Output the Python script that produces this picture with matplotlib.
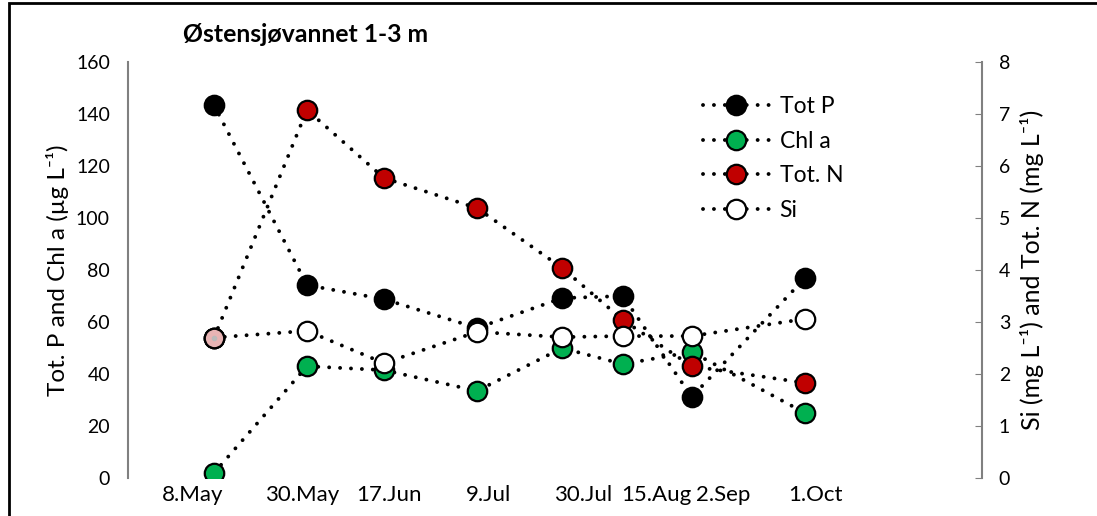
import matplotlib
matplotlib.use('Agg')
import matplotlib.pyplot as plt
from matplotlib.patches import Rectangle

plt.rcParams['font.family'] = ['Lato', 'DejaVu Sans']

# sampling days (day of year) and values
days = [128, 151, 170, 193, 214, 229, 246, 274]
tot_p = [143.5, 74.2, 68.8, 57.7, 69.2, 70.0, 31.2, 76.9]
chl_a = [1.9, 43.0, 41.5, 33.5, 50.0, 43.8, 48.5, 25.0]
tot_n = [2.69, 7.08, 5.77, 5.19, 4.04, 3.04, 2.15, 1.83]
si = [2.70, 2.83, 2.21, 2.81, 2.71, 2.73, 2.73, 3.06]

tick_days = [122.8, 149.7, 171.2, 195.7, 219.2, 237.3, 253.7, 276.5]
tick_labels = ['8.May', '30.May', '17.Jun', '9.Jul', '30.Jul', '15.Aug', '2.Sep', '1.Oct']

fig = plt.figure(figsize=(10.97, 5.16), dpi=100)
ax = fig.add_axes([0.1167, 0.0736, 0.7785, 0.8062])
ax2 = ax.twinx()

dots = dict(color='black', linestyle=(0, (0.01, 2.8)), lw=2.8,
            dash_capstyle='round', marker='o', markersize=14,
            markeredgecolor='black', markeredgewidth=1.6)

l1, = ax.plot(days, tot_p, markerfacecolor='black', label='Tot P', **dots)
l2, = ax.plot(days, chl_a, markerfacecolor='#00B050', label='Chl a', **dots)
l3, = ax2.plot(days, tot_n, markerfacecolor='#C00000', label='Tot. N', **dots)
l4, = ax2.plot(days, si, markerfacecolor='white', label='Si', **dots)
# first Si/Tot N point drawn pink in the original
ax2.plot(days[0], si[0], 'o', markersize=14, markerfacecolor='#E8B4B4',
         markeredgecolor='black', markeredgewidth=1.6)
ax2.plot(days[0], si[0], 'o', markersize=3, color='#BBBBBB')

ax.set_xlim(106.8, 317.7)
ax.set_ylim(0, 160)
ax2.set_ylim(0, 8)
ax.set_yticks(range(0, 161, 20))
ax2.set_yticks(range(0, 9))

ax.set_xticks(tick_days)
ax.set_xticklabels(tick_labels)
ax.tick_params(axis='x', length=0, labelsize=16, pad=5)
ax.tick_params(axis='y', length=0, labelsize=14, pad=13)
ax2.tick_params(axis='y', direction='in', length=5, color='#808080',
                labelsize=14, pad=12)

for a in (ax, ax2):
    for s in ('top', 'bottom'):
        a.spines[s].set_visible(False)
ax.spines['right'].set_visible(False)
ax2.spines['left'].set_visible(False)
ax.spines['left'].set_color('#808080')
ax.spines['left'].set_linewidth(1.5)
ax2.spines['right'].set_color('#808080')
ax2.spines['right'].set_linewidth(1.5)

ax.set_ylabel('Tot. P and Chl a (µg L⁻¹)', fontsize=17.5, labelpad=5)
ax2.set_ylabel('Si (mg L⁻¹) and Tot. N (mg L⁻¹)', fontsize=18, labelpad=7)

fig.text(183 / 1097, 1 - 35 / 516, 'Østensjøvannet 1-3 m', fontsize=17.8,
         fontweight='bold', va='center', ha='left')

leg = ax.legend(handles=[l1, l2, l3, l4], loc='upper left',
                bbox_to_anchor=(0.649, 0.968), frameon=False, fontsize=16.5,
                handlelength=2.9, handletextpad=0.45, labelspacing=0.6)

# outer frame
fig.add_artist(Rectangle((9 / 1097, -0.05), 1.1, 1.05 - 3 / 516,
                         transform=fig.transFigure, fill=False,
                         edgecolor='black', linewidth=2))

fig.savefig('out.png', dpi=100)
